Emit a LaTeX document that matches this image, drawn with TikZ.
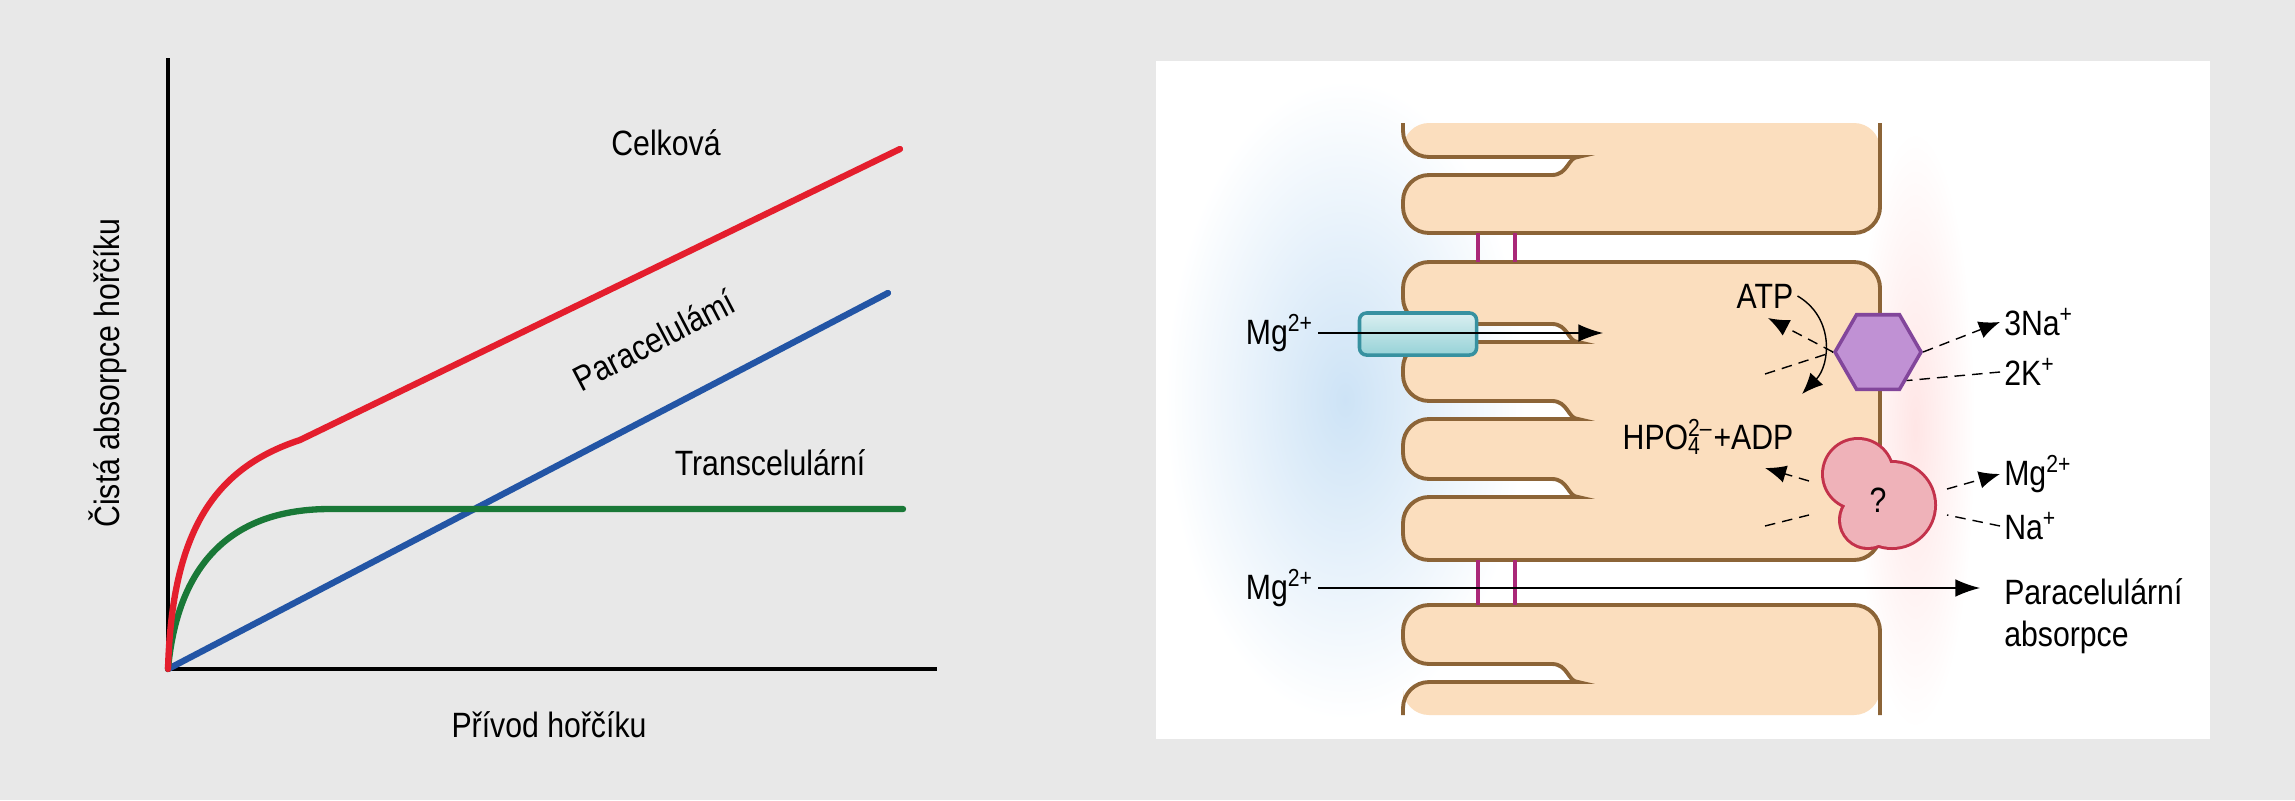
\documentclass[tikz,border=0pt]{standalone}
\usepackage{fontspec}
\setmainfont{Liberation Sans}[FakeStretch=0.86]
\usetikzlibrary{arrows.meta, positioning, shapes.geometric, calc}
\definecolor{panelgray}{RGB}{232,232,232}
\definecolor{curvered}{RGB}{228,30,45}
\definecolor{curvegreen}{RGB}{25,120,55}
\definecolor{curveblue}{RGB}{35,85,165}
\definecolor{cellfill}{RGB}{251,222,190}
\definecolor{celledge}{RGB}{140,100,55}
\definecolor{junction}{RGB}{170,40,120}
\definecolor{channel}{RGB}{150,210,215}
\definecolor{channeledge}{RGB}{55,145,160}
\definecolor{pump}{RGB}{192,145,212}
\definecolor{pumpedge}{RGB}{130,70,155}
\definecolor{carrier}{RGB}{232,145,155}
\definecolor{carrieredge}{RGB}{195,50,75}
\definecolor{lumen}{RGB}{205,227,246}

\tikzset{
  lbl/.style={font=\fontsize{10}{12}\selectfont, inner sep=1pt},
  curve/.style={line width=1.8pt, line cap=round},
  flow/.style={-{Latex[length=6pt,width=5pt]}, thin, densely dashed},
  tick/.style={thin, densely dashed},
  cellline/.style={draw=celledge, line width=1.1pt},
  jbar/.style={draw=junction, line width=1.2pt},
  cellcorner/.style={rounded corners=2.6mm}
}
% one microvillus fold reaching into the cell at height #1 (up- and downward)
\newcommand{\villfold}[1]{-- (1552,#1+9) [sharp corners] .. controls (1568,#1+9) and (1568,#1-9) .. (1552,#1-9) -- (1500,#1-9) [cellcorner] -- (1403,#1-9)}
\newcommand{\villfolddown}[1]{-- (1552,#1-9) [sharp corners] .. controls (1568,#1-9) and (1568,#1+9) .. (1552,#1+9) -- (1500,#1+9) [cellcorner] -- (1403,#1+9)}

\begin{document}
\begin{tikzpicture}[x=0.01cm, y=-0.01cm]
        \useasboundingbox (0,0) rectangle (2295,800);
        \fill[panelgray] (0,0) rectangle (2295,800);

        % Graph
        \draw[line width=1pt] (168,58) -- (168,669) -- (937,669);
        \coordinate (orig) at (168,669);
        \draw[curve, curveblue] (orig) -- (888,293);
        \draw[curve, curvegreen] (orig) .. controls (178,560) and (235,509) .. (330,509) -- (903,509);
        \draw[curve, curvered] (orig) .. controls (172,530) and (215,468) .. (300,440) -- (900,149);
        \node[lbl] (celk) at (666,143) {Celková};
        \node[lbl, rotate=27.6] (para) at (654,340) {Paracelulámí};
        \node[lbl] (trans) at (770,463) {Transcelulární};
        \node[lbl, rotate=90] (ylab) at (108,373) {Čistá absorpce hořčíku};
        \node[lbl] (xlab) at (549,725) {Přívod hořčíku};

        % Panel
        \fill[white] (1156,61) rectangle (2210,739);
        \shade[inner color=lumen, outer color=white] (1345,400) ellipse (180 and 320);
        \shade[inner color=red!10, outer color=white] (1915,430) ellipse (60 and 300);

        % Cells
        \fill[cellfill, cellcorner] (1403,123) -- (1403,157) \villfolddown{166} -- (1403,233) -- (1880,233) -- (1880,123) -- cycle;
        \draw[cellline, cellcorner] (1403,123) -- (1403,157) \villfolddown{166} -- (1403,233) -- (1880,233) -- (1880,123);
        \filldraw[cellline, fill=cellfill, cellcorner] (1480,262) -- (1880,262) -- (1880,560) -- (1403,560)
            -- (1403,497) \villfold{488} -- (1403,419) \villfold{410} -- (1403,342) \villfold{333} -- (1403,262) -- cycle;
        \fill[cellfill, cellcorner] (1403,715) -- (1403,682) \villfold{673} -- (1403,605) -- (1880,605) -- (1880,715) -- cycle;
        \draw[cellline, cellcorner] (1403,715) -- (1403,682) \villfold{673} -- (1403,605) -- (1880,605) -- (1880,715);

        % Tight junctions
        \foreach \x in {1478,1515} {
            \draw[jbar] (\x,233) -- (\x,262);
            \draw[jbar] (\x,560) -- (\x,605);
        }

        % Channel
        \node[draw=channeledge, line width=1pt, top color=channel!35, bottom color=channel,
              minimum width=1.17cm, minimum height=0.42cm, rounded corners=2pt] (chan) at (1418,334) {};

        % Na/K pump
        \node[regular polygon, regular polygon sides=6, minimum size=0.86cm, inner sep=0pt,
              fill=pump, draw=pumpedge, line width=1pt] (pmp) at (1878,352) {};

        % Carrier
        \fill[carrieredge] (1858,474) circle (37) (1892,505) circle (45) (1868,520) circle (30);
        \fill[carrier!70] (1858,474) circle (34) (1892,505) circle (42) (1868,520) circle (27);
        \node[lbl] (carr) at (1878,500) {?};

        % Labels
        \node[lbl, anchor=east] (mgtop) at (1318,333) {Mg\textsuperscript{2+}};
        \node[lbl, anchor=east] (mgbot) at (1318,588) {Mg\textsuperscript{2+}};
        \node[lbl] (atp) at (1765,296) {ATP};
        \node[lbl] (hpo) at (1708,437) {HPO\rlap{\textsubscript{4}}\textsuperscript{2–}+ADP};
        \node[lbl, anchor=west] (na3) at (2000,322) {3Na\textsuperscript{+}};
        \node[lbl, anchor=west] (k2) at (2000,372) {2K\textsuperscript{+}};
        \node[lbl, anchor=west] (mgout) at (2000,474) {Mg\textsuperscript{2+}};
        \node[lbl, anchor=west] (naout) at (2000,526) {Na\textsuperscript{+}};
        \node[lbl, anchor=north west, align=left] (pabs) at (2000,574) {Paracelulární\\absorpce};

        % Fluxes
        \coordinate (mgin) at (1603,333);
        \coordinate (pabsin) at (1980,588);
        \draw[-{Latex[length=7pt,width=5pt]}, thin] (mgtop.east) -- (mgin);
        \draw[-{Latex[length=7pt,width=5pt]}, thin] (mgbot.east) -- (pabsin);
        \draw[flow] (pmp.east) -- (na3.west);
        \draw[tick] (k2.west) -- (pmp.south east);
        \draw[flow] (pmp.west) -- (1768,318);
        \draw[tick] (1765,374) -- (pmp.west);
        \draw[-{Latex[length=6pt,width=5pt]}, thin] (atp.east) .. controls (1835,318) and (1830,365) .. (1802,394);
        \draw[flow] (1809,481) -- (1765,468);
        \draw[tick] (1765,526) -- (1809,515);
        \draw[flow] (1947,489) -- (mgout.west);
        \draw[tick] (naout.west) -- (1947,515);
    \end{tikzpicture}
\end{document}
